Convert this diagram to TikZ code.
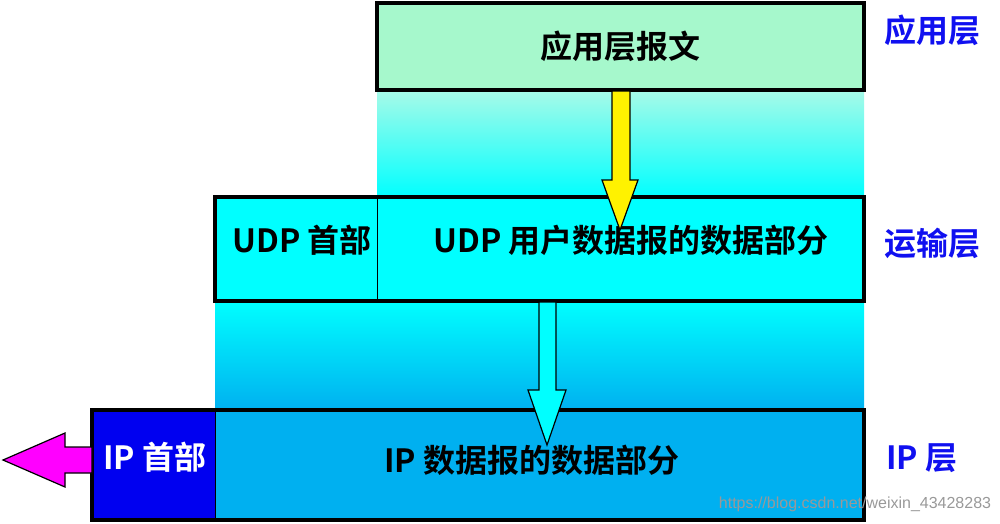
\documentclass[tikz,border=0pt]{standalone}
\usepackage{fontspec}
\setmainfont{Liberation Sans}
\newfontfamily\cjk{Noto Sans CJK SC}[BoldFont={Noto Sans CJK SC Bold}]
\definecolor{appg}{HTML}{A6F8CC}
\definecolor{lcy}{HTML}{A8FAE8}
\definecolor{cy}{HTML}{00FFFF}
\definecolor{ipc}{HTML}{00B0F0}
\definecolor{iph}{HTML}{0000F0}
\definecolor{lay}{HTML}{1010F0}
\definecolor{mag}{HTML}{FF00FF}
\begin{document}
\begin{tikzpicture}[x=1pt,y=-1pt,
  box/.style={draw=black,line width=3.5pt},
  txt/.style={font=\cjk\bfseries\fontsize{32}{36}\selectfont},
  layer/.style={font=\cjk\bfseries\fontsize{32}{36}\selectfont,text=lay}]
\useasboundingbox (0,0) rectangle (1000,523);
\shade[top color=lcy,bottom color=cy] (377,90) rectangle (864,197);
\shade[top color=cy,bottom color=ipc] (215,301) rectangle (864,410);
\draw[box,fill=appg] (377,3) rectangle (864,90);
\draw[box,fill=cy] (215,197) rectangle (864,301);
\draw[line width=1pt] (377,197) -- (377,301);
\draw[box,fill=ipc] (92,410) rectangle (864,520);
\fill[iph] (93.7,411.7) rectangle (215,518.3);
\draw[line width=1pt] (215,410) -- (215,520);
\node[txt] (app) at (620,46) {应用层报文};
\node[txt] (udph) at (302,240) {UDP 首部};
\node[txt] (udpd) at (631,240) {UDP 用户数据报的数据部分};
\node[txt,text=white] (iph) at (155,457) {IP 首部};
\node[txt] (ipd) at (532,460) {IP 数据报的数据部分};
\node[layer] (l1) at (932,30) {应用层};
\node[layer] (l2) at (932,243) {运输层};
\node[layer] (l3) at (922,458) {IP 层};
\node[text=gray!80,font=\fontsize{16}{18}\selectfont] (wm) at (855,504) {https://blog.csdn.net/weixin\_43428283};
\draw[line width=1.2pt,fill=yellow] (612,91) -- (630,91) -- (630,180) -- (638,180) -- (620,230) -- (602,180) -- (612,180) -- cycle;
\draw[line width=1.2pt,fill=cy] (539,302) -- (556,302) -- (556,390) -- (566,390) -- (547,445) -- (528,390) -- (539,390) -- cycle;
\draw[line width=1.2pt,fill=mag] (92,447) -- (65,447) -- (65,433) -- (3,460) -- (65,487) -- (65,473) -- (92,473) -- cycle;
\end{tikzpicture}
\end{document}
